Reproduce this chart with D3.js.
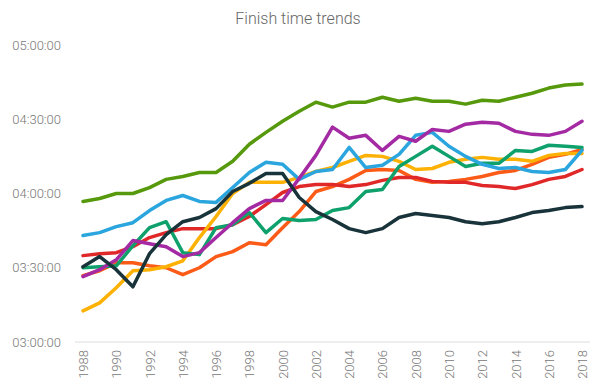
<!DOCTYPE html>
<head>
<meta charset="utf-8">
<script src="https://d3js.org/d3.v7.min.js"></script>
<style>
  body {
      margin: 0;
      font-family: Roboto, sans-serif;
      font-weight: 300;
  }
  .title {
      font-size: 16px;
      fill: #666;
  }
  .axis text {
      font-family: Roboto, sans-serif;
      font-weight: 300;
      font-size: 13px;
      fill: #777;
  }
  .axis path,
  .axis line {
      fill: none;
      stroke: none;
  }
  .line {
      fill: none;
      stroke-width: 3.5;
      stroke-linejoin: round;
      stroke-linecap: round;
  }
</style>
</head>
<body>
  <div id="my_dataviz"></div>
</body>

<script>
// finish times in minutes, one value per year
var years = d3.range(1988, 2019);

var green  = [236.8,238.0,240.0,240.0,242.4,245.7,246.9,248.5,248.5,253.0,259.9,264.7,269.2,273.2,276.9,274.9,276.9,276.9,278.9,277.3,278.5,277.3,277.3,276.1,277.7,277.3,278.9,280.5,282.6,283.8,284.2];
var purple = [206.4,209.2,213.2,221.0,219.7,218.5,214.5,216.1,222.2,228.2,233.9,237.2,237.2,246.1,255.4,266.8,262.3,263.5,257.4,263.1,261.1,265.9,265.1,268.0,268.8,268.4,265.1,263.9,263.5,265.1,269.2];
var blue   = [223.0,224.2,226.6,228.2,233.1,237.2,239.2,236.8,236.4,242.4,248.5,252.6,251.8,245.7,248.9,249.7,258.6,250.5,251.4,255.8,263.5,264.7,259.1,255.0,251.8,250.1,250.5,248.9,248.5,249.7,257.4];
var yellow = [192.6,195.8,201.9,208.8,209.2,210.4,212.8,222.2,230.7,240.0,244.5,244.5,244.5,246.5,248.9,250.5,253.0,255.4,255.0,253.0,249.7,250.1,252.6,253.8,254.6,253.8,253.8,253.0,255.4,256.2,256.2];
var orange = [206.8,208.8,212.0,212.0,210.8,210.0,207.2,210.0,214.5,216.5,220.1,219.3,226.2,232.7,240.8,242.8,245.7,249.3,249.7,249.3,245.7,244.5,244.9,245.7,246.9,248.5,249.3,251.8,254.6,255.8,257.8];
var red    = [214.9,215.7,216.1,218.5,222.2,224.2,225.8,225.8,225.8,227.4,230.7,235.5,240.4,242.8,243.6,243.6,242.8,243.6,245.3,246.5,246.5,244.9,244.5,244.5,243.2,242.8,242.0,243.6,245.7,246.9,249.7];
var teal   = [210.0,210.4,210.8,218.9,226.2,228.6,216.1,215.3,226.2,227.4,232.3,224.2,229.9,229.1,229.5,233.1,234.3,240.8,241.6,250.9,255.0,259.1,255.0,250.9,252.2,252.2,257.4,257.0,259.5,259.1,258.6];
var navy   = [210.4,214.5,209.2,202.3,215.7,223.4,228.6,230.3,233.9,240.8,244.1,248.1,248.1,238.4,232.7,229.5,225.8,224.2,225.8,230.3,231.9,231.1,230.3,228.6,227.8,228.6,230.3,232.3,233.1,234.3,234.7];

var yTicks = [180, 210, 240, 270, 300];
var xTicks = d3.range(1988, 2019, 2);

// drawing order, last one on top
var series = [
  {values: orange, color: "#fb5b16"},
  {values: red,    color: "#e12828"},
  {values: yellow, color: "#fcb104"},
  {values: teal,   color: "#0ea16c"},
  {values: blue,   color: "#2aa5de"},
  {values: purple, color: "#a42aa4"},
  {values: navy,   color: "#18333a"},
  {values: green,  color: "#56990c"}
];

var margin = {top: 45, right: 10, bottom: 43, left: 75},
    width = 600 - margin.left - margin.right,
    height = 385 - margin.top - margin.bottom;

var root = d3.select("#my_dataviz")
  .append("svg")
    .attr("width", 600)
    .attr("height", 385);

root.append("text")
    .attr("class", "title")
    .attr("x", 298)
    .attr("y", 24)
    .style("text-anchor", "middle")
    .text("Finish time trends");

var svg = root.append("g")
    .attr("transform", "translate(" + margin.left + "," + margin.top + ")");

var x = d3.scaleLinear()
  .domain([1988, 2018])
  .range([8, 507]);

var y = d3.scaleLinear()
  .domain([180, 300])
  .range([height, 0]);

function fmt(m) {
  var h = Math.floor(m / 60), mm = m % 60;
  return d3.format("02")(h) + ":" + d3.format("02")(mm) + ":00";
}

// Y axis
svg.append("g")
    .attr("class", "axis")
    .call(d3.axisLeft(y).tickValues(yTicks).tickFormat(fmt).tickSize(0).tickPadding(14));

// baseline
svg.append("line")
    .attr("x1", 0)
    .attr("x2", width)
    .attr("y1", y(180))
    .attr("y2", y(180))
    .style("stroke", "#ddd")
    .style("stroke-width", 1);

// X axis
svg.append("g")
    .attr("class", "axis")
    .attr("transform", "translate(0," + height + ")")
    .call(d3.axisBottom(x).tickValues(xTicks).tickFormat(d3.format("d")).tickSize(0))
  .selectAll("text")
    .attr("transform", "rotate(-90)")
    .attr("x", -8)
    .attr("y", 0)
    .attr("dy", "0.35em")
    .style("text-anchor", "end");

var line = d3.line()
  .x(function(d, i) { return x(years[i]); })
  .y(function(d) { return y(d); });

svg.append("g")
  .selectAll("path")
  .data(series)
  .enter()
  .append("path")
    .attr("class", "line")
    .attr("d", function(d) { return line(d.values); })
    .style("stroke", function(d) { return d.color; });
</script>
